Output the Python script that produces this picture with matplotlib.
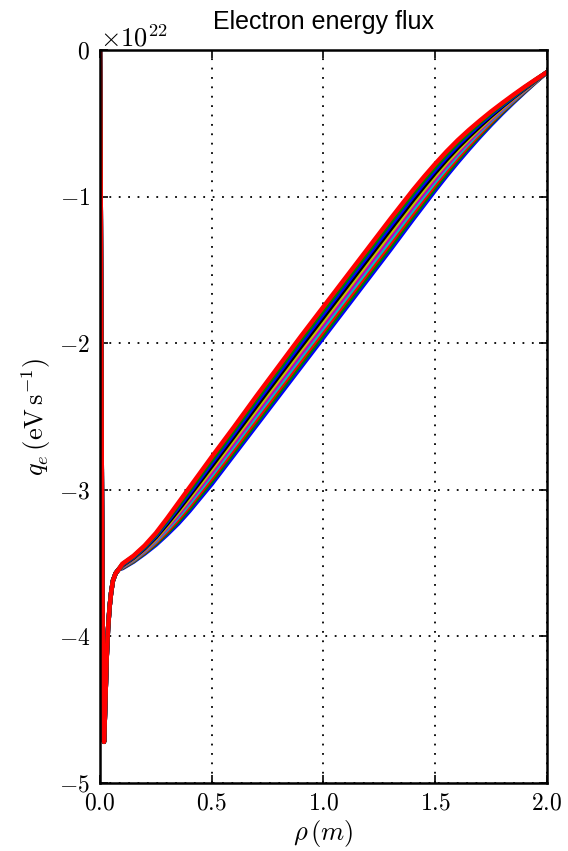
import numpy as np
import matplotlib
matplotlib.use('Agg')
import matplotlib.pyplot as plt

plt.rcParams['font.family'] = 'serif'
plt.rcParams['font.serif'] = ['cmr10']
plt.rcParams['mathtext.fontset'] = 'cm'
plt.rcParams['axes.formatter.use_mathtext'] = True
plt.rcParams['axes.unicode_minus'] = True
plt.rcParams['axes.linewidth'] = 1.8
plt.rcParams['xtick.direction'] = 'in'
plt.rcParams['ytick.direction'] = 'in'
plt.rcParams['xtick.top'] = True
plt.rcParams['ytick.right'] = True
plt.rcParams['xtick.major.size'] = 6
plt.rcParams['ytick.major.size'] = 6
plt.rcParams['xtick.major.width'] = 1.2
plt.rcParams['ytick.major.width'] = 1.2
plt.rcParams['xtick.major.pad'] = 7
plt.rcParams['ytick.major.pad'] = 7

# radius (m), shared steep core part of every profile
rho_core = [0.0, 0.002, 0.004, 0.006, 0.008, 0.010, 0.012, 0.015, 0.018,
            0.021, 0.025, 0.030, 0.036, 0.043, 0.050, 0.058, 0.070, 0.085]
qe_core = [0.0, -0.5, -1.2, -2.0, -2.8, -3.4, -3.9, -4.4, -4.72,
           -4.6, -4.4, -4.15, -3.95, -3.80, -3.70, -3.62, -3.57, -3.54]

# radius (m) for the outer part, where the runs fan out
rho_outer = [0.10, 0.15, 0.20, 0.25, 0.30, 0.35, 0.40, 0.50, 0.60, 0.70,
             0.80, 0.90, 1.00, 1.10, 1.20, 1.30, 1.40, 1.45, 1.50, 1.55,
             1.60, 1.65, 1.70, 1.75, 1.80, 1.85, 1.90, 1.95, 2.00]

# electron energy flux, units of 1e22 eV/s, one list per run
run0 = [-3.535, -3.490, -3.435, -3.375, -3.305, -3.230, -3.145, -2.960, -2.760, -2.560,
        -2.360, -2.160, -1.960, -1.760, -1.560, -1.360, -1.155, -1.055, -0.955, -0.858,
        -0.765, -0.676, -0.590, -0.508, -0.430, -0.356, -0.285, -0.216, -0.150]
run1 = [-3.532, -3.486, -3.429, -3.366, -3.293, -3.214, -3.127, -2.939, -2.739, -2.538,
        -2.337, -2.137, -1.937, -1.737, -1.537, -1.337, -1.133, -1.034, -0.935, -0.840,
        -0.748, -0.661, -0.578, -0.498, -0.422, -0.350, -0.281, -0.214, -0.150]
run2 = [-3.528, -3.481, -3.423, -3.357, -3.281, -3.199, -3.109, -2.919, -2.718, -2.516,
        -2.314, -2.113, -1.913, -1.713, -1.513, -1.313, -1.111, -1.012, -0.915, -0.821,
        -0.732, -0.647, -0.566, -0.488, -0.414, -0.344, -0.277, -0.212, -0.150]
run3 = [-3.525, -3.477, -3.417, -3.348, -3.268, -3.183, -3.092, -2.898, -2.697, -2.493,
        -2.292, -2.090, -1.890, -1.690, -1.490, -1.290, -1.088, -0.991, -0.895, -0.803,
        -0.715, -0.632, -0.553, -0.478, -0.407, -0.339, -0.273, -0.210, -0.150]
run4 = [-3.522, -3.472, -3.411, -3.339, -3.256, -3.168, -3.074, -2.878, -2.676, -2.471,
        -2.269, -2.067, -1.867, -1.667, -1.467, -1.267, -1.066, -0.970, -0.875, -0.784,
        -0.698, -0.618, -0.541, -0.468, -0.399, -0.333, -0.269, -0.208, -0.150]
run5 = [-3.518, -3.468, -3.404, -3.331, -3.244, -3.152, -3.056, -2.857, -2.654, -2.449,
        -2.246, -2.043, -1.843, -1.643, -1.443, -1.243, -1.044, -0.948, -0.855, -0.766,
        -0.682, -0.603, -0.529, -0.458, -0.391, -0.327, -0.266, -0.207, -0.150]
run6 = [-3.515, -3.463, -3.398, -3.322, -3.232, -3.137, -3.038, -2.837, -2.633, -2.427,
        -2.223, -2.020, -1.820, -1.620, -1.420, -1.220, -1.022, -0.927, -0.835, -0.747,
        -0.665, -0.589, -0.517, -0.448, -0.383, -0.321, -0.262, -0.205, -0.150]
run7 = [-3.512, -3.459, -3.392, -3.313, -3.219, -3.121, -3.021, -2.816, -2.612, -2.404,
        -2.201, -1.997, -1.797, -1.597, -1.397, -1.197, -0.999, -0.906, -0.815, -0.729,
        -0.648, -0.574, -0.504, -0.438, -0.376, -0.316, -0.258, -0.203, -0.150]
run8 = [-3.508, -3.454, -3.386, -3.304, -3.207, -3.106, -3.003, -2.796, -2.591, -2.382,
        -2.178, -1.973, -1.773, -1.573, -1.373, -1.173, -0.977, -0.884, -0.795, -0.710,
        -0.632, -0.560, -0.492, -0.428, -0.368, -0.310, -0.254, -0.201, -0.150]
run9 = [-3.505, -3.450, -3.380, -3.295, -3.195, -3.090, -2.985, -2.775, -2.570, -2.360,
        -2.155, -1.950, -1.750, -1.550, -1.350, -1.150, -0.955, -0.863, -0.775, -0.692,
        -0.615, -0.545, -0.480, -0.418, -0.360, -0.304, -0.250, -0.199, -0.150]
runs = [run0, run1, run2, run3, run4, run5, run6, run7, run8, run9]

# old matplotlib 'bgrcmyk' cycle
colors = [(0, 0, 1), (0, 0.5, 0), (1, 0, 0), (0, 0.75, 0.75), (0.75, 0, 0.75),
          (0.75, 0.75, 0), (0, 0, 0)]

fig = plt.figure(figsize=(5.68, 8.51), dpi=100)
ax = fig.add_axes([0.176, 0.080, 0.787, 0.861])

rho = np.array(rho_core + rho_outer)
for i, r in enumerate(runs):
    q = np.array(qe_core + r) * 1e22
    ax.plot(rho, q, color=colors[i % len(colors)], lw=3.2, solid_joinstyle='round')

ax.set_xlim(0, 2.0)
ax.set_ylim(-5e22, 0)
ax.set_xticks([0.0, 0.5, 1.0, 1.5, 2.0])
ax.grid(True, color='k', linestyle=(0, (1, 4.2)), linewidth=1.3)

ax.tick_params(labelsize=17)
ax.yaxis.get_offset_text().set_fontsize(19)
ax.yaxis.get_offset_text().set_y(1.005)

ax.set_xlabel(r'$\rho\,(m)$', fontsize=19, labelpad=2)
ax.set_ylabel(r'$q_e\,(\mathrm{eV\,s^{-1}})$', fontsize=19, labelpad=4)
ax.set_title('Electron energy flux', fontsize=18, family='Liberation Sans', pad=15)

plt.savefig('out.png', dpi=100)
